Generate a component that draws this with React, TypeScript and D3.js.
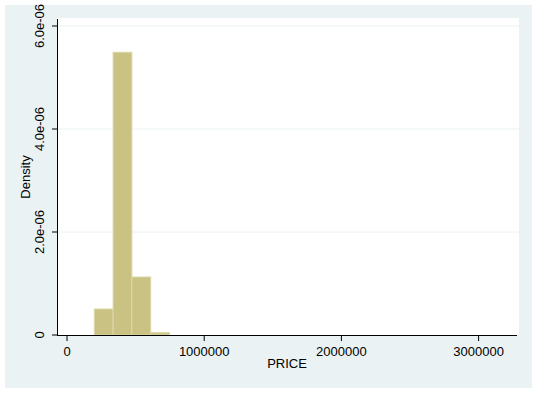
import React from "react";
import * as d3 from "d3";

const binEdges = [199000, 336000, 473000, 610000, 747000];
const densities = [0.505e-6, 5.49e-6, 1.126e-6, 0.045e-6];
const xTicks = [0, 1000000, 2000000, 3000000];
const yTicks = [0, 2e-6, 4e-6, 6e-6];
const yTickLabels = ["0", "2.0e-06", "4.0e-06", "6.0e-06"];

export default function App() {
  const W = 537, H = 393;
  const plotL = 57, plotR = 519, plotT = 18, plotB = 335;
  const x = d3.scaleLinear().domain([0, 1000000]).range([67, 204.2]);
  const y = d3.scaleLinear().domain([0, 6e-6]).range([335, 26]);
  const font = "'Liberation Sans', Arial, sans-serif";
  const bins = densities.map((d, i) => ({ x0: binEdges[i], x1: binEdges[i + 1], d }));
  return (
    <svg width={W} height={H} style={{ position: "absolute", left: 0, top: 0 }} fontFamily={font}>
      <rect x={0} y={0} width={W} height={H} fill="#ffffff" />
      <rect x={5} y={5} width={527} height={383} fill="#EAF2F3" />
      <rect x={plotL} y={plotT} width={plotR - plotL} height={plotB - plotT} fill="#ffffff" />
      {yTicks.slice(1).map((t) => (
        <line key={t} x1={plotL} x2={plotR} y1={y(t)} y2={y(t)} stroke="#EAF2F3" strokeWidth={1} />
      ))}
      {bins.map((b, i) => (
        <rect
          key={i}
          x={x(b.x0)}
          y={y(b.d)}
          width={x(b.x1) - x(b.x0)}
          height={y(0) - y(b.d)}
          fill="#C9C283"
          stroke="#DCD7A6"
          strokeWidth={1}
        />
      ))}
      <line x1={57.5} x2={57.5} y1={19} y2={335.5} stroke="#000" strokeWidth={1} />
      <line x1={57} x2={517} y1={335.5} y2={335.5} stroke="#000" strokeWidth={1} />
      {yTicks.map((t, i) => (
        <g key={t}>
          <line x1={52} x2={57.5} y1={y(t)} y2={y(t)} stroke="#000" />
          <text
            transform={`translate(44,${y(t)}) rotate(-90)`}
            textAnchor="middle"
            fontSize={13}
            fill="#000"
          >
            {yTickLabels[i]}
          </text>
        </g>
      ))}
      {xTicks.map((t) => (
        <g key={t}>
          <line x1={x(t)} x2={x(t)} y1={335.5} y2={341} stroke="#000" />
          <text x={x(t)} y={356} textAnchor="middle" fontSize={13} fill="#000">
            {String(t)}
          </text>
        </g>
      ))}
      <text transform="translate(29.5,177) rotate(-90)" textAnchor="middle" fontSize={13} fill="#000">
        Density
      </text>
      <text x={287} y={368} textAnchor="middle" fontSize={13} fill="#000">
        PRICE
      </text>
    </svg>
  );
}
